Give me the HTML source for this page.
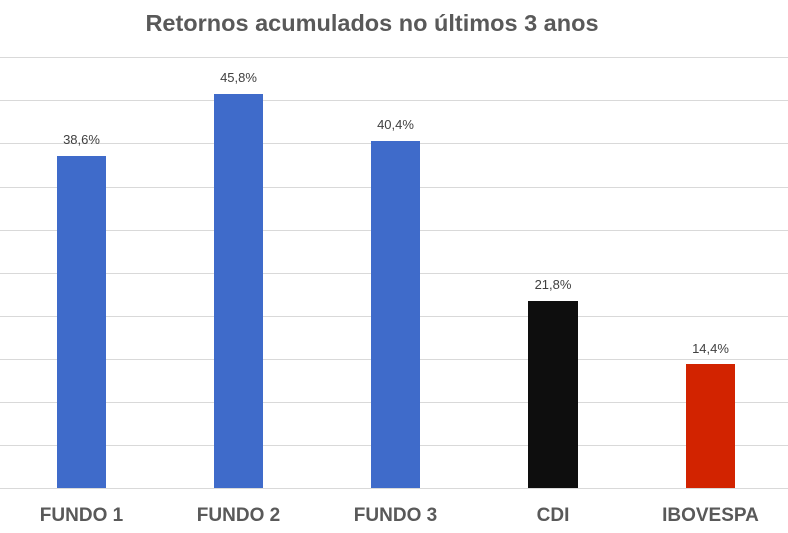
<!DOCTYPE html>
<html><head><style>
body{margin:0;background:#fff;}
svg{display:block;font-family:"Liberation Sans",sans-serif;}
</style></head><body>
<svg width="788" height="533" xmlns="http://www.w3.org/2000/svg">
<rect width="788" height="533" fill="#fff"/>
<text x="372" y="31" text-anchor="middle" font-size="23.5" font-weight="bold" fill="#595959">Retornos acumulados no últimos 3 anos</text>
<g stroke="#d9d9d9" stroke-width="1">
<line x1="0" x2="788" y1="57.5" y2="57.5"/>
<line x1="0" x2="788" y1="100.5" y2="100.5"/>
<line x1="0" x2="788" y1="143.5" y2="143.5"/>
<line x1="0" x2="788" y1="187.5" y2="187.5"/>
<line x1="0" x2="788" y1="230.5" y2="230.5"/>
<line x1="0" x2="788" y1="273.5" y2="273.5"/>
<line x1="0" x2="788" y1="316.5" y2="316.5"/>
<line x1="0" x2="788" y1="359.5" y2="359.5"/>
<line x1="0" x2="788" y1="402.5" y2="402.5"/>
<line x1="0" x2="788" y1="445.5" y2="445.5"/>
<line x1="0" x2="788" y1="488.5" y2="488.5"/>
</g>
<rect x="57" y="156" width="49" height="332" fill="#3f6bca"/>
<rect x="214" y="94" width="49" height="394" fill="#3f6bca"/>
<rect x="371" y="141" width="49" height="347" fill="#3f6bca"/>
<rect x="528" y="301" width="50" height="187" fill="#0e0e0e"/>
<rect x="686" y="364" width="49" height="124" fill="#d22300"/>
<g font-size="13" fill="#404040" text-anchor="middle">
<text x="81.5" y="144">38,6%</text>
<text x="238.5" y="82">45,8%</text>
<text x="395.5" y="129">40,4%</text>
<text x="553" y="289">21,8%</text>
<text x="710.5" y="353">14,4%</text>
</g>
<g font-size="19" font-weight="bold" fill="#595959" text-anchor="middle">
<text x="81.5" y="521">FUNDO 1</text>
<text x="238.5" y="521">FUNDO 2</text>
<text x="395.5" y="521">FUNDO 3</text>
<text x="553" y="521">CDI</text>
<text x="710.5" y="521">IBOVESPA</text>
</g>
</svg>
</body></html>
